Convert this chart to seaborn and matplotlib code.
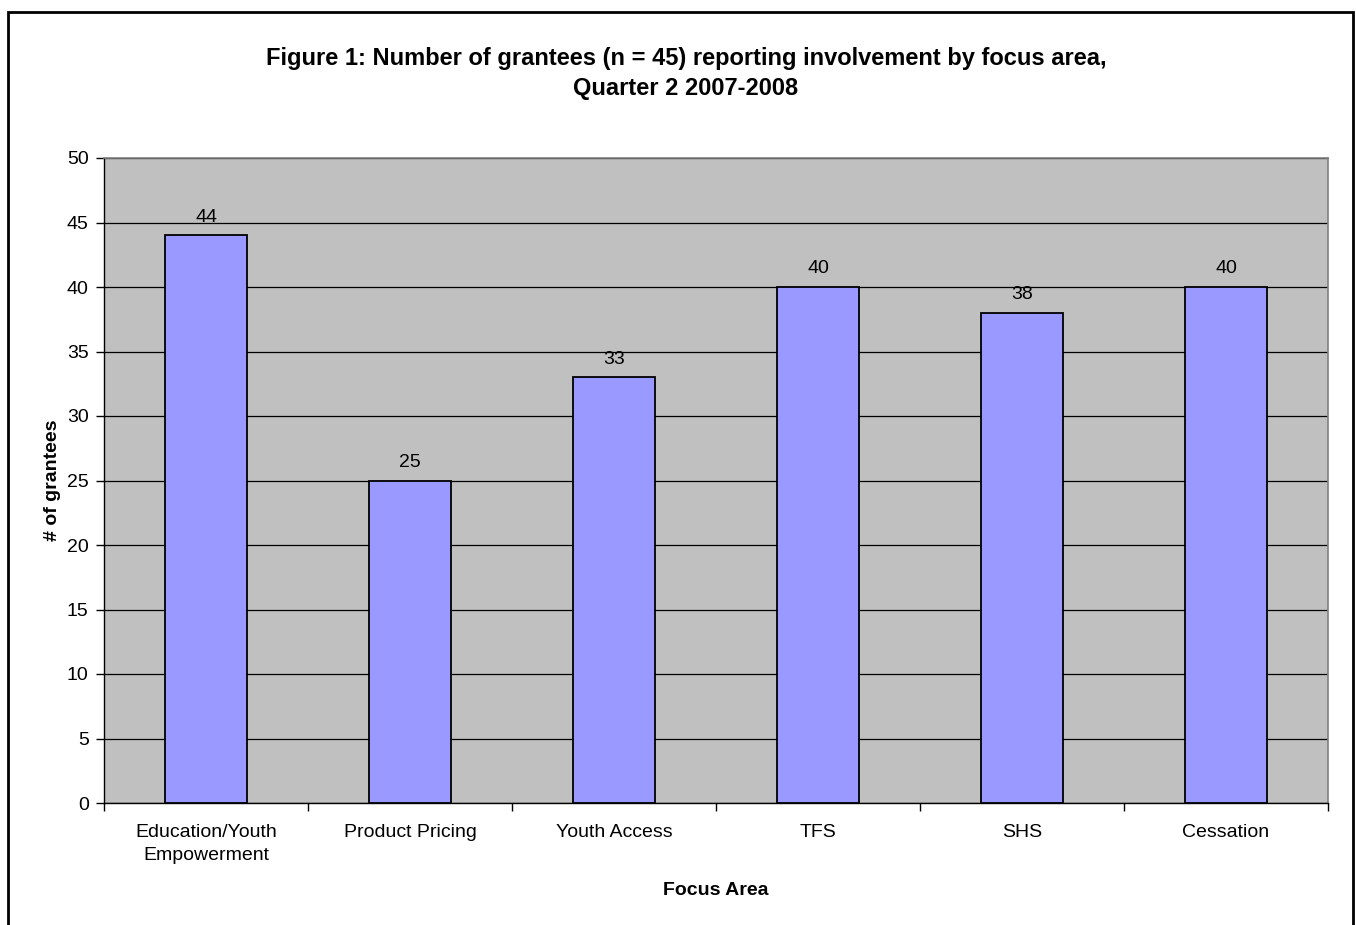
import matplotlib
matplotlib.use("Agg")
import matplotlib.pyplot as plt
import matplotlib.patches as mpatches
from matplotlib.ticker import FixedLocator
import seaborn as sns
import pandas as pd

categories = ["Education/Youth\nEmpowerment", "Product Pricing", "Youth Access", "TFS", "SHS", "Cessation"]
grantees = [44, 25, 33, 40, 38, 40]
y_ticks = [0, 5, 10, 15, 20, 25, 30, 35, 40, 45, 50]

sns.set_theme(style="white")
plt.rcParams["font.family"] = ["Liberation Sans", "DejaVu Sans"]
plt.rcParams["text.color"] = "black"
plt.rcParams["axes.labelcolor"] = "black"
plt.rcParams["xtick.color"] = "black"
plt.rcParams["ytick.color"] = "black"

df = pd.DataFrame({"area": categories, "count": grantees})

W, H = 1356, 925
fig = plt.figure(figsize=(W / 100, H / 100), dpi=100)
ax = fig.add_axes([104 / W, 1 - 803 / H, (1328 - 104) / W, (803 - 158) / H])
ax.set_facecolor("#C0C0C0")

sns.barplot(data=df, x="area", y="count", ax=ax, color="#9999FF", saturation=1,
            width=0.4, edgecolor="black", linewidth=1.3, zorder=3)

ax.set_ylim(0, 50)
ax.set_xlim(-0.5, len(categories) - 0.5)
ax.set_yticks(y_ticks)
ax.set_yticklabels([str(v) for v in y_ticks], fontsize=14)
ax.yaxis.grid(True, color="black", linewidth=0.9, zorder=0)
ax.set_axisbelow(True)

# category labels centred, tick marks on the category boundaries
ax.set_xticks(range(len(categories)))
ax.set_xticklabels(categories, fontsize=14, linespacing=1.45)
ax.xaxis.set_minor_locator(FixedLocator([i - 0.5 for i in range(len(categories) + 1)]))
ax.tick_params(axis="x", which="major", length=0, pad=15)
ax.tick_params(axis="x", which="minor", length=6, width=1, color="black", direction="out", bottom=True)
ax.tick_params(axis="y", which="major", length=6, width=1, color="black", direction="out", left=True, pad=5)

for side in ["top", "right"]:
    ax.spines[side].set_color("#808080")
    ax.spines[side].set_linewidth(1.2)
for side in ["left", "bottom"]:
    ax.spines[side].set_color("black")
    ax.spines[side].set_linewidth(1.0)

for i, v in enumerate(grantees):
    ax.annotate(str(v), (i, v), xytext=(0, 7), textcoords="offset points",
                ha="center", va="bottom", fontsize=14)

ax.set_xlabel("Focus Area", fontsize=14, fontweight="bold", labelpad=13)
ax.set_ylabel("# of grantees", fontsize=14, fontweight="bold", labelpad=4)

title_x = 686 / W
fig.text(title_x, 1 - 58 / H,
         "Figure 1: Number of grantees (n = 45) reporting involvement by focus area,",
         ha="center", va="center", fontsize=17, fontweight="bold")
fig.text(title_x, 1 - 88 / H, "Quarter 2 2007-2008",
         ha="center", va="center", fontsize=17, fontweight="bold")

# chart frame around the figure, running past the bottom edge
frame = mpatches.Rectangle((8 / W, -0.05), (1353 - 8) / W, 1 - 12 / H + 0.05,
                           transform=fig.transFigure, fill=False, edgecolor="black",
                           linewidth=2, clip_on=False)
fig.patches.append(frame)

fig.savefig("out.png", dpi=100, facecolor="white")
